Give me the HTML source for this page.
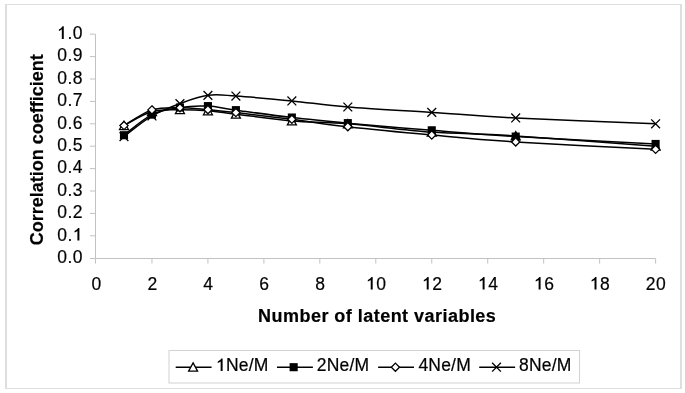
<!DOCTYPE html>
<html><head><meta charset="utf-8"><style>
html,body{margin:0;padding:0;background:#fff;width:685px;height:393px;overflow:hidden}
svg{display:block;will-change:transform}
text{font-family:"Liberation Sans",sans-serif;fill:#000;stroke:#000;stroke-width:0.2px}
.o{stroke:none}
.tl text{font-size:17.5px;letter-spacing:0.5px}
.tt{font-size:18px;font-weight:bold}
.xt{letter-spacing:0.47px}
.lg text{font-size:17.5px;letter-spacing:0.2px}
.o{fill:transparent}
</style></head><body>
<svg width="685" height="393" viewBox="0 0 685 393">
<rect x="5" y="4" width="677" height="1" fill="#dedede"/>
<rect x="5" y="388" width="677" height="1" fill="#dedede"/>
<rect x="5" y="4" width="2" height="385" fill="#dedede"/>
<rect x="680" y="4" width="2" height="385" fill="#dedede"/>
<path d="M95.5,34.2 V258.5 H655.6" fill="none" stroke="#c2c2c2" stroke-width="1"/>
<path d="M90,258.50 H95.5 M90,235.80 H95.5 M90,213.40 H95.5 M90,191.00 H95.5 M90,168.60 H95.5 M90,146.20 H95.5 M90,123.80 H95.5 M90,101.40 H95.5 M90,79.00 H95.5 M90,56.60 H95.5 M90,34.20 H95.5 M95.50,258.5 V263.6 M151.96,258.5 V263.6 M207.92,258.5 V263.6 M263.88,258.5 V263.6 M319.84,258.5 V263.6 M375.80,258.5 V263.6 M431.76,258.5 V263.6 M487.72,258.5 V263.6 M543.68,258.5 V263.6 M599.64,258.5 V263.6 M655.60,258.5 V263.6" fill="none" stroke="#c2c2c2" stroke-width="1"/>
<g class="tl"><text x="83" y="262.9" text-anchor="end">0.0</text><text x="83" y="240.5" text-anchor="end">0.<tspan class="o">1</tspan></text><text x="83" y="218.1" text-anchor="end">0.2</text><text x="83" y="195.7" text-anchor="end">0.3</text><text x="83" y="173.3" text-anchor="end">0.4</text><text x="83" y="150.9" text-anchor="end">0.5</text><text x="83" y="128.5" text-anchor="end">0.6</text><text x="83" y="106.1" text-anchor="end">0.7</text><text x="83" y="83.7" text-anchor="end">0.8</text><text x="83" y="61.3" text-anchor="end">0.9</text><text x="83" y="38.9" text-anchor="end"><tspan class="o">1</tspan>.0</text><text x="96.5" y="289.5" text-anchor="middle">0</text><text x="152.5" y="289.5" text-anchor="middle">2</text><text x="208.4" y="289.5" text-anchor="middle">4</text><text x="264.4" y="289.5" text-anchor="middle">6</text><text x="320.3" y="289.5" text-anchor="middle">8</text><text x="376.3" y="289.5" text-anchor="middle"><tspan class="o">1</tspan>0</text><text x="432.3" y="289.5" text-anchor="middle"><tspan class="o">1</tspan>2</text><text x="488.2" y="289.5" text-anchor="middle"><tspan class="o">1</tspan>4</text><text x="544.2" y="289.5" text-anchor="middle"><tspan class="o">1</tspan>6</text><text x="600.1" y="289.5" text-anchor="middle"><tspan class="o">1</tspan>8</text><text x="656.1" y="289.5" text-anchor="middle">20</text></g>
<text class="tt xt" x="377.2" y="322.2" text-anchor="middle">Number of latent variables</text>
<text class="tt" transform="translate(42.9,149.8) rotate(-90)" text-anchor="middle">Correlation coefficient</text>
<path d="M123.98,125.59 C128.64,123.24 142.63,114.13 151.96,111.48 C161.29,108.83 170.61,109.80 179.94,109.69 C189.27,109.58 198.59,110.06 207.92,110.81 C217.25,111.55 221.91,112.49 235.90,114.17 C249.89,115.85 273.21,119.28 291.86,120.89 C310.51,122.49 324.50,121.93 347.82,123.80 C371.14,125.67 403.78,130.07 431.76,132.09 C459.74,134.10 478.39,133.54 515.70,135.90 C553.01,138.25 632.28,144.48 655.60,146.20" fill="none" stroke="#000" stroke-width="1.5"/>
<path d="M123.98,121.29 L128.48,129.59 L119.48,129.59 Z" fill="#fff" stroke="#000" stroke-width="1.3"/>
<path d="M151.96,107.18 L156.46,115.48 L147.46,115.48 Z" fill="#fff" stroke="#000" stroke-width="1.3"/>
<path d="M179.94,105.39 L184.44,113.69 L175.44,113.69 Z" fill="#fff" stroke="#000" stroke-width="1.3"/>
<path d="M207.92,106.51 L212.42,114.81 L203.42,114.81 Z" fill="#fff" stroke="#000" stroke-width="1.3"/>
<path d="M235.90,109.87 L240.40,118.17 L231.40,118.17 Z" fill="#fff" stroke="#000" stroke-width="1.3"/>
<path d="M291.86,116.59 L296.36,124.89 L287.36,124.89 Z" fill="#fff" stroke="#000" stroke-width="1.3"/>
<path d="M347.82,119.50 L352.32,127.80 L343.32,127.80 Z" fill="#fff" stroke="#000" stroke-width="1.3"/>
<path d="M431.76,127.79 L436.26,136.09 L427.26,136.09 Z" fill="#fff" stroke="#000" stroke-width="1.3"/>
<path d="M515.70,131.60 L520.20,139.90 L511.20,139.90 Z" fill="#fff" stroke="#000" stroke-width="1.3"/>
<path d="M655.60,141.90 L660.10,150.20 L651.10,150.20 Z" fill="#fff" stroke="#000" stroke-width="1.3"/>
<path d="M123.98,135.22 C128.64,131.79 142.63,119.25 151.96,114.62 C161.29,109.99 170.61,108.87 179.94,107.45 C189.27,106.03 198.59,105.66 207.92,106.10 C217.25,106.55 221.91,108.23 235.90,110.14 C249.89,112.04 273.21,115.36 291.86,117.53 C310.51,119.69 324.50,121.00 347.82,123.13 C371.14,125.26 403.78,128.06 431.76,130.30 C459.74,132.54 478.39,134.29 515.70,136.57 C553.01,138.85 632.28,142.73 655.60,143.96" fill="none" stroke="#000" stroke-width="1.5"/>
<rect x="119.93" y="131.17" width="8.10" height="8.10" fill="#000"/>
<rect x="147.91" y="110.57" width="8.10" height="8.10" fill="#000"/>
<rect x="175.89" y="103.40" width="8.10" height="8.10" fill="#000"/>
<rect x="203.87" y="102.05" width="8.10" height="8.10" fill="#000"/>
<rect x="231.85" y="106.09" width="8.10" height="8.10" fill="#000"/>
<rect x="287.81" y="113.48" width="8.10" height="8.10" fill="#000"/>
<rect x="343.77" y="119.08" width="8.10" height="8.10" fill="#000"/>
<rect x="427.71" y="126.25" width="8.10" height="8.10" fill="#000"/>
<rect x="511.65" y="132.52" width="8.10" height="8.10" fill="#000"/>
<rect x="651.55" y="139.91" width="8.10" height="8.10" fill="#000"/>
<path d="M123.98,125.59 C128.64,122.98 142.63,112.90 151.96,109.91 C161.29,106.93 170.61,107.71 179.94,107.67 C189.27,107.63 198.59,108.87 207.92,109.69 C217.25,110.51 221.91,110.99 235.90,112.60 C249.89,114.21 273.21,116.97 291.86,119.32 C310.51,121.67 324.50,124.10 347.82,126.71 C371.14,129.33 403.78,132.46 431.76,135.00 C459.74,137.54 478.39,139.55 515.70,141.94 C553.01,144.33 632.28,148.10 655.60,149.34" fill="none" stroke="#000" stroke-width="1.5"/>
<path d="M123.98,121.49 L128.08,125.59 L123.98,129.69 L119.88,125.59 Z" fill="#fff" stroke="#000" stroke-width="1.3"/>
<path d="M151.96,105.81 L156.06,109.91 L151.96,114.01 L147.86,109.91 Z" fill="#fff" stroke="#000" stroke-width="1.3"/>
<path d="M179.94,103.57 L184.04,107.67 L179.94,111.77 L175.84,107.67 Z" fill="#fff" stroke="#000" stroke-width="1.3"/>
<path d="M207.92,105.59 L212.02,109.69 L207.92,113.79 L203.82,109.69 Z" fill="#fff" stroke="#000" stroke-width="1.3"/>
<path d="M235.90,108.50 L240.00,112.60 L235.90,116.70 L231.80,112.60 Z" fill="#fff" stroke="#000" stroke-width="1.3"/>
<path d="M291.86,115.22 L295.96,119.32 L291.86,123.42 L287.76,119.32 Z" fill="#fff" stroke="#000" stroke-width="1.3"/>
<path d="M347.82,122.61 L351.92,126.71 L347.82,130.81 L343.72,126.71 Z" fill="#fff" stroke="#000" stroke-width="1.3"/>
<path d="M431.76,130.90 L435.86,135.00 L431.76,139.10 L427.66,135.00 Z" fill="#fff" stroke="#000" stroke-width="1.3"/>
<path d="M515.70,137.84 L519.80,141.94 L515.70,146.04 L511.60,141.94 Z" fill="#fff" stroke="#000" stroke-width="1.3"/>
<path d="M655.60,145.24 L659.70,149.34 L655.60,153.44 L651.50,149.34 Z" fill="#fff" stroke="#000" stroke-width="1.3"/>
<path d="M123.98,136.57 C128.64,133.13 142.63,121.45 151.96,115.96 C161.29,110.47 170.61,107.07 179.94,103.64 C189.27,100.21 198.59,96.62 207.92,95.35 C217.25,94.08 221.91,95.09 235.90,96.02 C249.89,96.96 273.21,99.12 291.86,100.95 C310.51,102.78 324.50,105.10 347.82,107.00 C371.14,108.90 403.78,110.55 431.76,112.38 C459.74,114.21 478.39,116.07 515.70,117.98 C553.01,119.88 632.28,122.83 655.60,123.80" fill="none" stroke="#000" stroke-width="1.5"/>
<path d="M119.58,132.17 L128.38,140.97 M128.38,132.17 L119.58,140.97" stroke="#000" stroke-width="1.3" fill="none"/>
<path d="M147.56,111.56 L156.36,120.36 M156.36,111.56 L147.56,120.36" stroke="#000" stroke-width="1.3" fill="none"/>
<path d="M175.54,99.24 L184.34,108.04 M184.34,99.24 L175.54,108.04" stroke="#000" stroke-width="1.3" fill="none"/>
<path d="M203.52,90.95 L212.32,99.75 M212.32,90.95 L203.52,99.75" stroke="#000" stroke-width="1.3" fill="none"/>
<path d="M231.50,91.62 L240.30,100.42 M240.30,91.62 L231.50,100.42" stroke="#000" stroke-width="1.3" fill="none"/>
<path d="M287.46,96.55 L296.26,105.35 M296.26,96.55 L287.46,105.35" stroke="#000" stroke-width="1.3" fill="none"/>
<path d="M343.42,102.60 L352.22,111.40 M352.22,102.60 L343.42,111.40" stroke="#000" stroke-width="1.3" fill="none"/>
<path d="M427.36,107.98 L436.16,116.78 M436.16,107.98 L427.36,116.78" stroke="#000" stroke-width="1.3" fill="none"/>
<path d="M511.30,113.58 L520.10,122.38 M520.10,113.58 L511.30,122.38" stroke="#000" stroke-width="1.3" fill="none"/>
<path d="M651.20,119.40 L660.00,128.20 M660.00,119.40 L651.20,128.20" stroke="#000" stroke-width="1.3" fill="none"/>
<rect x="169" y="350.5" width="410.5" height="32.5" fill="none" stroke="#d2d2d2" stroke-width="1"/>
<path d="M175.7,367.3 H211.6" stroke="#000" stroke-width="1.5"/>
<path d="M193.10,362.90 L197.60,371.20 L188.60,371.20 Z" fill="#fff" stroke="#000" stroke-width="1.3"/>
<path d="M277.0,367.3 H312.9" stroke="#000" stroke-width="1.5"/>
<rect x="289.60" y="363.15" width="8.10" height="8.10" fill="#000"/>
<path d="M378.1,367.3 H414.0" stroke="#000" stroke-width="1.5"/>
<path d="M395.40,363.10 L399.50,367.20 L395.40,371.30 L391.30,367.20 Z" fill="#fff" stroke="#000" stroke-width="1.3"/>
<path d="M479.2,367.3 H515.1" stroke="#000" stroke-width="1.5"/>
<path d="M492.10,362.80 L500.90,371.60 M500.90,362.80 L492.10,371.60" stroke="#000" stroke-width="1.3" fill="none"/>
<g class="lg"><text x="216.0" y="371"><tspan class="o">1</tspan>Ne/M</text><text x="316.8" y="371">2Ne/M</text><text x="418.4" y="371">4Ne/M</text><text x="519.0" y="371">8Ne/M</text></g>
<g fill="#000"><path transform="translate(72.77,240.50) scale(0.01750,-0.01750)" d="M378,0 L266,0 L266,548 C248,530 222,512 190,493 C158,474 128,461 100,451 L100,540 C150,563 194,590 230,622 C266,654 292,686 307,716 L378,716 Z"/><path transform="translate(57.16,38.90) scale(0.01750,-0.01750)" d="M378,0 L266,0 L266,548 C248,530 222,512 190,493 C158,474 128,461 100,451 L100,540 C150,563 194,590 230,622 C266,654 292,686 307,716 L378,716 Z"/><path transform="translate(366.07,289.50) scale(0.01750,-0.01750)" d="M378,0 L266,0 L266,548 C248,530 222,512 190,493 C158,474 128,461 100,451 L100,540 C150,563 194,590 230,622 C266,654 292,686 307,716 L378,716 Z"/><path transform="translate(422.07,289.50) scale(0.01750,-0.01750)" d="M378,0 L266,0 L266,548 C248,530 222,512 190,493 C158,474 128,461 100,451 L100,540 C150,563 194,590 230,622 C266,654 292,686 307,716 L378,716 Z"/><path transform="translate(477.97,289.50) scale(0.01750,-0.01750)" d="M378,0 L266,0 L266,548 C248,530 222,512 190,493 C158,474 128,461 100,451 L100,540 C150,563 194,590 230,622 C266,654 292,686 307,716 L378,716 Z"/><path transform="translate(533.97,289.50) scale(0.01750,-0.01750)" d="M378,0 L266,0 L266,548 C248,530 222,512 190,493 C158,474 128,461 100,451 L100,540 C150,563 194,590 230,622 C266,654 292,686 307,716 L378,716 Z"/><path transform="translate(589.87,289.50) scale(0.01750,-0.01750)" d="M378,0 L266,0 L266,548 C248,530 222,512 190,493 C158,474 128,461 100,451 L100,540 C150,563 194,590 230,622 C266,654 292,686 307,716 L378,716 Z"/><path transform="translate(216.00,371.00) scale(0.01750,-0.01750)" d="M378,0 L266,0 L266,548 C248,530 222,512 190,493 C158,474 128,461 100,451 L100,540 C150,563 194,590 230,622 C266,654 292,686 307,716 L378,716 Z"/></g>
</svg>
</body></html>
